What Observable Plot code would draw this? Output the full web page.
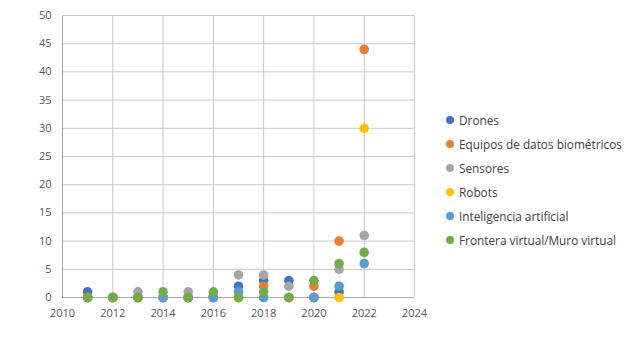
<!DOCTYPE html>
<html>
<head>
<meta charset="utf-8">
<script src="https://cdn.jsdelivr.net/npm/d3@7"></script>
<script src="https://cdn.jsdelivr.net/npm/@observablehq/plot@0.6"></script>
<style>
  html, body { margin: 0; padding: 0; background: #fff; }
  #wrap { position: relative; width: 633px; height: 360px; font-family: "Open Sans", sans-serif; }
  #legend { position: absolute; left: 446px; top: 108px; font-size: 11.8px; color: #404040; }
  .item { display: flex; align-items: center; height: 24px; white-space: nowrap; }
  .sw { width: 8px; height: 8px; border-radius: 50%; margin-right: 5px; }
</style>
</head>
<body>
<div id="wrap"><div id="legend"></div></div>
<script>
const years = [2011, 2012, 2013, 2014, 2015, 2016, 2017, 2018, 2019, 2020, 2021, 2022];
const seriesNames = ["Drones", "Equipos de datos biométricos", "Sensores", "Robots", "Inteligencia artificial", "Frontera virtual/Muro virtual"];
const colors = ["#4472C4", "#ED7D31", "#A5A5A5", "#FFC000", "#5B9BD5", "#70AD47"];
const drones     = [1, 0, 0, 0, 0, 0, 2, 3, 3, 0, 1, null];
const biometricos = [0, 0, 0, 0, 0, 0, 0, 2, 0, 2, 10, 44];
const sensores   = [0, 0, 1, 0, 1, 0, 4, 4, 2, 0, 5, 11];
const robots     = [0, 0, 0, 0, 0, 0, 0, 0, 0, 0, 0, 30];
const ia         = [0, 0, 0, 0, 0, 0, 1, 0, 0, 0, 2, 6];
const frontera   = [0, 0, 0, 1, 0, 1, 0, 1, 0, 3, 6, 8];
const xTicks = [2010, 2012, 2014, 2016, 2018, 2020, 2022, 2024];
const yTicks = [0, 5, 10, 15, 20, 25, 30, 35, 40, 45, 50];

const allSeries = [drones, biometricos, sensores, robots, ia, frontera];
const data = [];
allSeries.forEach((vals, i) => {
  vals.forEach((v, j) => {
    if (v !== null) data.push({ year: years[j], value: v, series: seriesNames[i] });
  });
});

const chart = Plot.plot({
  width: 633,
  height: 360,
  marginLeft: 62,
  marginRight: 219,
  marginTop: 15,
  marginBottom: 63,
  style: { fontFamily: "Open Sans, sans-serif", fontSize: "11px", color: "#595959", background: "#fff" },
  x: { domain: [2010, 2024], ticks: xTicks, tickFormat: "d", tickSize: 0, tickPadding: 12, label: null },
  y: { domain: [0, 50], ticks: yTicks, tickSize: 0, tickPadding: 11, label: null },
  color: { domain: seriesNames, range: colors },
  marks: [
    Plot.ruleX(xTicks, { stroke: "#c8c8c8", strokeWidth: 1, strokeOpacity: 1 }),
    Plot.ruleY(yTicks, { stroke: "#c8c8c8", strokeWidth: 1, strokeOpacity: 1 }),
    Plot.ruleY([0], { stroke: "#a6a6a6", strokeWidth: 1 }),
    Plot.ruleX([2010], { stroke: "#a6a6a6", strokeWidth: 1 }),
    Plot.dot(data, { x: "year", y: "value", fill: "series", r: 4.8, stroke: null })
  ]
});
const wrap = document.getElementById("wrap");
wrap.insertBefore(chart, wrap.firstChild);

const legend = document.getElementById("legend");
seriesNames.forEach((name, i) => {
  const item = document.createElement("div");
  item.className = "item";
  const sw = document.createElement("span");
  sw.className = "sw";
  sw.style.background = colors[i];
  const label = document.createElement("span");
  label.textContent = name;
  item.appendChild(sw);
  item.appendChild(label);
  legend.appendChild(item);
});
</script>
</body>
</html>
